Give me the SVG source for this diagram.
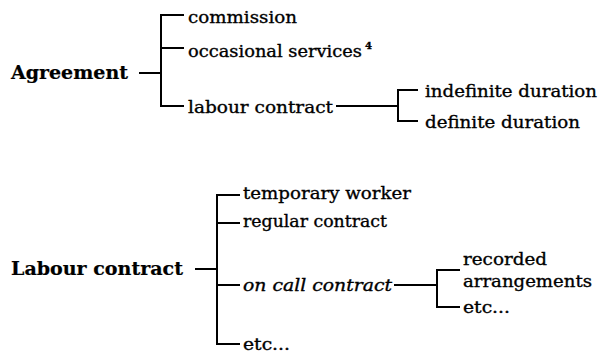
<svg xmlns="http://www.w3.org/2000/svg" width="605" height="356" viewBox="0 0 605 356">
<style>
text{font-family:"DejaVu Serif","Liberation Serif",serif;font-size:17px;fill:#000;stroke:#000;stroke-width:0.35}
.b{font-weight:bold;font-size:18px;stroke-width:0.2}
.i{font-style:italic}
.c line{stroke:#000;stroke-width:2}
</style>
<rect width="605" height="356" fill="#fff"/>
<g class="c" id="connectors">
<line x1="139" y1="73" x2="161" y2="73"/>
<line x1="161" y1="14" x2="161" y2="107"/>
<line x1="160" y1="15" x2="184" y2="15"/>
<line x1="160" y1="48" x2="184" y2="48"/>
<line x1="160" y1="106" x2="184" y2="106"/>
<line x1="336" y1="106" x2="398" y2="106"/>
<line x1="398" y1="89" x2="398" y2="122"/>
<line x1="397" y1="90" x2="418" y2="90"/>
<line x1="397" y1="121" x2="418" y2="121"/>
<line x1="195" y1="269" x2="217" y2="269"/>
<line x1="217" y1="194" x2="217" y2="345"/>
<line x1="216" y1="195" x2="240" y2="195"/>
<line x1="216" y1="223" x2="240" y2="223"/>
<line x1="216" y1="285" x2="240" y2="285"/>
<line x1="216" y1="344" x2="240" y2="344"/>
<line x1="394" y1="285" x2="437" y2="285"/>
<line x1="437" y1="269" x2="437" y2="308"/>
<line x1="436" y1="270" x2="460" y2="270"/>
<line x1="436" y1="307" x2="460" y2="307"/>
</g>
<g id="agreement"><text class="b" x="11" y="79" textLength="117" lengthAdjust="spacingAndGlyphs">Agreement</text></g>
<g id="commission"><text x="188" y="23" textLength="109" lengthAdjust="spacingAndGlyphs">commission</text></g>
<g id="occasional"><text x="188" y="57" textLength="174" lengthAdjust="spacingAndGlyphs">occasional services</text><text x="365" y="49" style="font-size:10px;font-weight:bold">4</text></g>
<g id="labour"><text x="188" y="113" textLength="145" lengthAdjust="spacingAndGlyphs">labour contract</text></g>
<g id="indefinite"><text x="425" y="97" textLength="172" lengthAdjust="spacingAndGlyphs">indefinite duration</text></g>
<g id="definite"><text x="425" y="128" textLength="155" lengthAdjust="spacingAndGlyphs">definite duration</text></g>
<g id="labourcontract"><text class="b" x="11" y="275" textLength="172" lengthAdjust="spacingAndGlyphs">Labour contract</text></g>
<g id="temporary"><text x="243" y="199" textLength="168" lengthAdjust="spacingAndGlyphs">temporary worker</text></g>
<g id="regular"><text x="243" y="227" textLength="144" lengthAdjust="spacingAndGlyphs">regular contract</text></g>
<g id="oncall"><text class="i" x="243" y="291" textLength="149" lengthAdjust="spacingAndGlyphs">on call contract</text></g>
<g id="etc1"><text x="243" y="350" textLength="47" lengthAdjust="spacingAndGlyphs">etc...</text></g>
<g id="recorded"><text x="463" y="265" textLength="84" lengthAdjust="spacingAndGlyphs">recorded</text></g>
<g id="arrangements"><text x="463" y="287" textLength="129" lengthAdjust="spacingAndGlyphs">arrangements</text></g>
<g id="etc2"><text x="463" y="313" textLength="47" lengthAdjust="spacingAndGlyphs">etc...</text></g>
</svg>
